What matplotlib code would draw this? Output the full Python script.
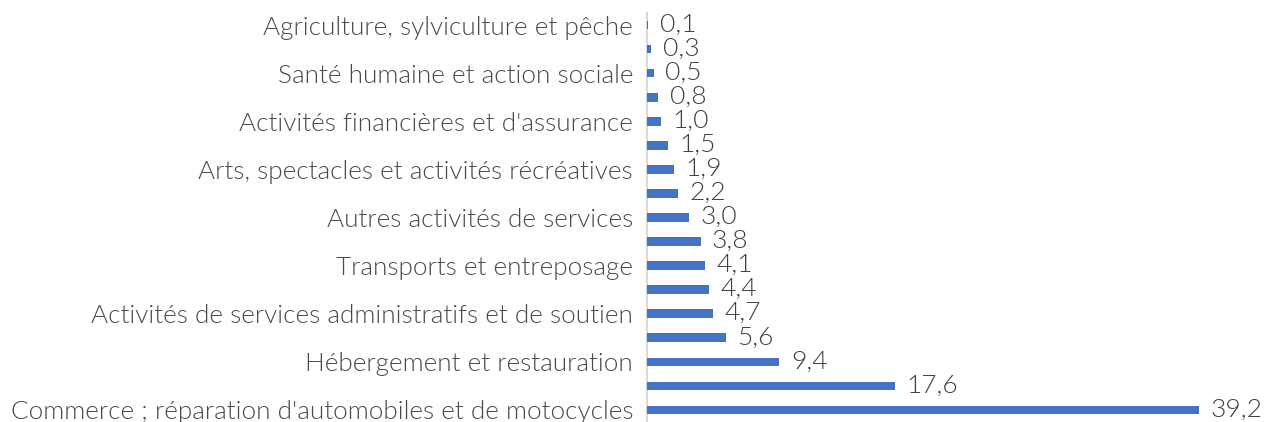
import numpy as np
import matplotlib.pyplot as plt

# Données (du bas vers le haut)
categories = [
    "Commerce ; réparation d'automobiles et de motocycles",
    "",
    "Hébergement et restauration",
    "",
    "Activités de services administratifs et de soutien",
    "",
    "Transports et entreposage",
    "",
    "Autres activités de services",
    "",
    "Arts, spectacles et activités récréatives",
    "",
    "Activités financières et d'assurance",
    "",
    "Santé humaine et action sociale",
    "",
    "Agriculture, sylviculture et pêche",
]
valeurs = [39.2, 17.6, 9.4, 5.6, 4.7, 4.4, 4.1, 3.8, 3.0, 2.2, 1.9, 1.5, 1.0, 0.8, 0.5, 0.3, 0.1]

plt.rcParams['font.family'] = ['Lato', 'DejaVu Sans']

fig = plt.figure(figsize=(12.65, 4.22), dpi=100)
ax = fig.add_axes([647 / 1265, 0, 568 / 1265, 409 / 422])

y = np.arange(len(valeurs))
ax.barh(y, valeurs, height=0.36, color='#4472C4', zorder=3)

for yi, v in zip(y, valeurs):
    ax.text(v + 0.8, yi + 0.02, f"{v:.1f}".replace('.', ','), va='center', ha='left',
            fontsize=19, fontweight=300, color='#404040')

ax.set_yticks(y)
ax.set_yticklabels(categories, fontsize=18.8, fontweight=300, color='#4a4a4a')
ax.tick_params(axis='y', length=0, pad=10)
ax.set_xlim(0, 40.3)
ax.set_ylim(-0.5, len(valeurs) - 0.5)
ax.set_xticks([])
for s in ['top', 'right', 'bottom']:
    ax.spines[s].set_visible(False)
ax.spines['left'].set_color('#D9D9D9')
ax.spines['left'].set_linewidth(1.5)
ax.spines['left'].set_zorder(1)

fig.savefig('out.png', dpi=100)
